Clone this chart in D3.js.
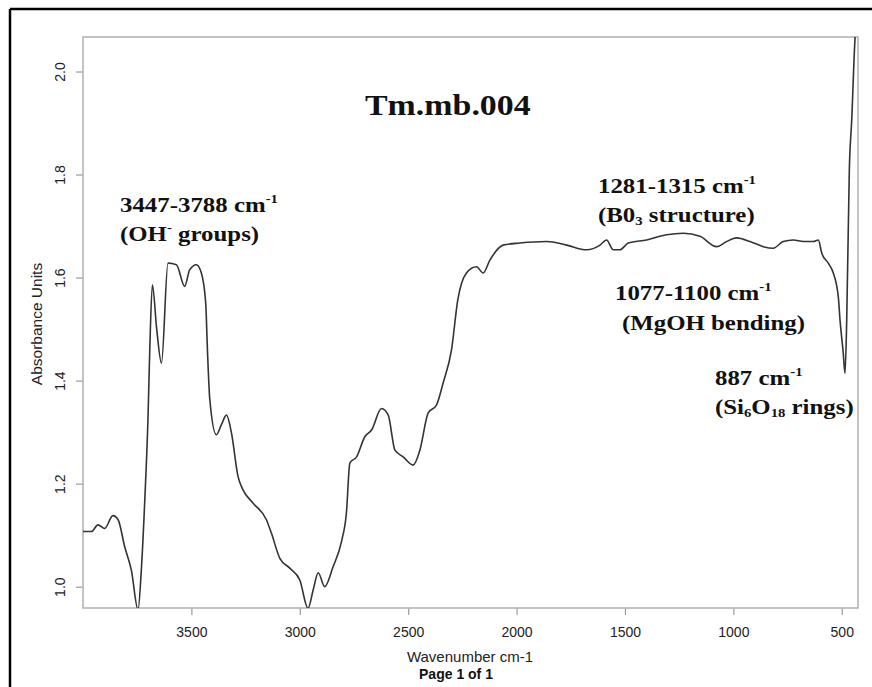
<!DOCTYPE html>
<html>
<head>
<meta charset="utf-8">
<script src="https://cdn.jsdelivr.net/npm/d3@7"></script>
<style>
  html, body { margin: 0; padding: 0; background: #fff; }
  svg { display: block; }
</style>
</head>
<body>
<svg id="chart" width="872" height="687"></svg>
<script>
// FTIR absorbance spectrum of sample Tm.mb.004
const wavenumber = [
  4000, 3961, 3931, 3900, 3862, 3838, 3808, 3777, 3746, 3731, 3715, 3700, 3692,
  3680, 3660, 3638, 3608, 3569, 3531, 3508, 3477, 3454, 3434, 3426, 3415, 3385,
  3362, 3338, 3315, 3285, 3262, 3215, 3154, 3131, 3092, 3046, 3000, 2962, 2938,
  2915, 2885, 2846, 2808, 2785, 2769, 2738, 2700, 2669, 2623, 2592, 2561, 2523,
  2477, 2446, 2408, 2369, 2339, 2300, 2271, 2231, 2185, 2154, 2123, 2062, 1985,
  1861, 1769, 1677, 1615, 1585, 1554, 1523, 1485, 1400, 1308, 1231, 1154, 1077,
  1031, 985, 923, 862, 816, 770, 723, 677, 631, 608, 592, 562, 539, 516, 508,
  493, 485, 477, 465, 454, 439, 428
];
const absorbance = [
  1.107, 1.107, 1.120, 1.113, 1.138, 1.130, 1.078, 1.032, 0.955, 1.032, 1.168, 1.330, 1.460,
  1.586, 1.500, 1.434, 1.628, 1.625, 1.583, 1.615, 1.625, 1.609, 1.551, 1.460, 1.363, 1.295,
  1.314, 1.333, 1.298, 1.214, 1.188, 1.162, 1.130, 1.104, 1.055, 1.036, 1.013, 0.958, 0.994,
  1.027, 1.000, 1.039, 1.087, 1.143, 1.240, 1.252, 1.291, 1.304, 1.346, 1.333, 1.265, 1.252,
  1.236, 1.265, 1.337, 1.353, 1.395, 1.460, 1.557, 1.609, 1.621, 1.609, 1.634, 1.663, 1.667,
  1.670, 1.663, 1.654, 1.663, 1.673, 1.654, 1.654, 1.667, 1.673, 1.683, 1.686, 1.680, 1.660,
  1.670, 1.677, 1.670, 1.660, 1.657, 1.670, 1.673, 1.670, 1.670, 1.673, 1.647, 1.628, 1.609, 1.563, 1.518,
  1.453, 1.414, 1.518, 1.809, 1.906, 2.062, 2.12
];

const xTicks = [3500, 3000, 2500, 2000, 1500, 1000, 500];
const yTicks = [1.0, 1.2, 1.4, 1.6, 1.8, 2.0];

const titleText = "Tm.mb.004";
const xLabel = "Wavenumber cm-1";
const yLabel = "Absorbance Units";
const pageLabel = "Page 1 of 1";

// Band assignments: lines of [text, kind] runs (kind: n normal, sup, sub)
const annotations = [
  { x: 120, y: 212, runs: [["3447-3788 cm", "n"], ["-1", "sup"]] },
  { x: 120, y: 241, runs: [["(OH", "n"], ["-", "sup"], [" groups)", "n"]] },
  { x: 598, y: 193, runs: [["1281-1315 cm", "n"], ["-1", "sup"]] },
  { x: 598, y: 222, runs: [["(B0", "n"], ["3", "sub"], [" structure)", "n"]] },
  { x: 615, y: 300, runs: [["1077-1100 cm", "n"], ["-1", "sup"]] },
  { x: 622, y: 330, runs: [["(MgOH bending)", "n"]] },
  { x: 715, y: 385, runs: [["887 cm", "n"], ["-1", "sup"]] },
  { x: 715, y: 414, runs: [["(Si", "n"], ["6", "sub"], ["O", "n"], ["18", "sub"], [" rings)", "n"]] }
];

const svg = d3.select("#chart");
const W = 872, H = 687;
const plot = { left: 83, right: 858, top: 37, bottom: 608 };
const serif = "Liberation Serif, Times New Roman, serif";
const sans = "Liberation Sans, Arial, sans-serif";
const stretch = 1.13;   // serif labels are set slightly wide

const x = d3.scaleLinear().domain([4000, 425]).range([plot.left, plot.right]);
const y = d3.scaleLinear().domain([0.9586, 2.067]).range([plot.bottom, plot.top]);

// page frame
svg.append("line").attr("x1", 10).attr("x2", W).attr("y1", 9).attr("y2", 9)
  .attr("stroke", "#000").attr("stroke-width", 2.5);
svg.append("line").attr("x1", 10).attr("x2", 10).attr("y1", 9).attr("y2", H)
  .attr("stroke", "#000").attr("stroke-width", 2.5);

// axes
const axisColor = "#9a9a9a";
const xAxis = svg.append("g")
  .attr("transform", `translate(0,${plot.bottom})`)
  .call(d3.axisBottom(x).tickValues(xTicks).tickSize(7).tickPadding(12).tickFormat(d3.format("d")));
xAxis.select(".domain").remove();
xAxis.selectAll("line").attr("stroke", axisColor).attr("stroke-width", 1.2);
xAxis.selectAll("text").attr("font-family", sans)
  .attr("font-size", 14).attr("fill", "#222");

const yAxis = svg.append("g")
  .attr("transform", `translate(${plot.left},0)`)
  .call(d3.axisLeft(y).tickValues(yTicks).tickSize(7).tickFormat(d3.format(".1f")));
yAxis.select(".domain").remove();
yAxis.selectAll("line").attr("stroke", axisColor).attr("stroke-width", 1.2);
yAxis.selectAll("text")
  .attr("font-family", sans)
  .attr("font-size", 14).attr("fill", "#222")
  .attr("text-anchor", "middle")
  .attr("x", 0).attr("dy", null)
  .attr("transform", "translate(-23,0) rotate(-90)")
  .attr("dominant-baseline", "central");

// plot box
svg.append("rect")
  .attr("x", plot.left).attr("y", plot.top)
  .attr("width", plot.right - plot.left).attr("height", plot.bottom - plot.top)
  .attr("fill", "none").attr("stroke", "#b5b5b5").attr("stroke-width", 1.6);

// spectrum
svg.append("clipPath").attr("id", "plotclip")
  .append("rect").attr("x", plot.left).attr("y", plot.top)
  .attr("width", plot.right - plot.left).attr("height", plot.bottom - plot.top);

const pts = wavenumber.map((w, i) => [w, absorbance[i]]);
const line = d3.line().x(d => x(d[0])).y(d => y(d[1])).curve(d3.curveMonotoneX);
svg.append("path")
  .datum(pts)
  .attr("clip-path", "url(#plotclip)")
  .attr("d", line)
  .attr("fill", "none").attr("stroke", "#333").attr("stroke-width", 1.6)
  .attr("stroke-linejoin", "round");

// axis titles
svg.append("text").attr("x", 470).attr("y", 662).attr("text-anchor", "middle")
  .attr("font-family", sans).attr("font-size", 15)
  .attr("fill", "#222").text(xLabel);
svg.append("text").attr("x", 456).attr("y", 679).attr("text-anchor", "middle")
  .attr("font-family", sans).attr("font-size", 14)
  .attr("font-weight", "bold").attr("fill", "#111").text(pageLabel);
svg.append("text").attr("transform", "translate(42,324) rotate(-90)")
  .attr("text-anchor", "middle")
  .attr("font-family", sans).attr("font-size", 15.5)
  .attr("fill", "#222").text(yLabel);

// title
svg.append("text")
  .attr("transform", `translate(365,115) scale(${stretch},1)`)
  .attr("font-family", serif)
  .attr("font-size", 30).attr("font-weight", "bold").attr("fill", "#111")
  .text(titleText);

// band annotations
const ann = svg.append("g")
  .attr("font-family", serif)
  .attr("font-weight", "bold").attr("fill", "#111");
annotations.forEach(a => {
  const t = ann.append("text")
    .attr("transform", `translate(${a.x},${a.y}) scale(${stretch},1)`)
    .attr("font-size", 22);
  a.runs.forEach(([s, kind]) => {
    const ts = t.append("tspan").text(s);
    if (kind === "sup") ts.attr("font-size", 13).attr("baseline-shift", "9");
    else if (kind === "sub") ts.attr("font-size", 13).attr("baseline-shift", "-3");
  });
});
</script>
</body>
</html>
